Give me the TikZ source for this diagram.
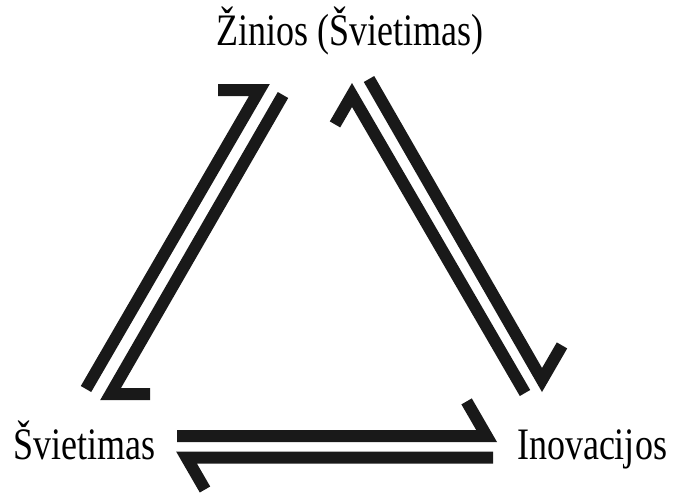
\documentclass[tikz,border=0pt]{standalone}
\usepackage{fontspec}
\setmainfont{Liberation Serif}
\begin{document}
\begin{tikzpicture}[x=1pt,y=-1pt,
  harp/.style={line width=12pt, line join=miter, miter limit=10, line cap=butt, draw=black!90},
  lbl/.style={font=\fontsize{45}{50}\selectfont, inner sep=0pt, anchor=base}]
\useasboundingbox (0,0) rectangle (676,493);
% labels
\node[lbl] (top) at (350,45) {\scalebox{0.8}[1]{Žinios (Švietimas)}};
\node[lbl] (left) at (84.5,459) {\scalebox{0.8}[1]{Švietimas}};
\node[lbl] (right) at (592,459) {\scalebox{0.8}[1]{Inovacijos}};
% left pair
\coordinate (L1t) at (86,389);
\coordinate (L1v) at (259.4,90);
\coordinate (L1b) at (218,90);
\coordinate (L2t) at (283,95);
\coordinate (L2v) at (110.6,394);
\coordinate (L2b) at (150,394);
% right pair
\coordinate (R1t) at (525,393);
\coordinate (R1v) at (352,95);
\coordinate (R1b) at (335,124.4);
\coordinate (R2t) at (369,79);
\coordinate (R2v) at (542,380);
\coordinate (R2b) at (562,345.4);
% bottom pair
\coordinate (B1t) at (177,436);
\coordinate (B1v) at (486.6,436);
\coordinate (B1b) at (466.6,401.4);
\coordinate (B2t) at (493,457.5);
\coordinate (B2v) at (186.5,457.5);
\coordinate (B2b) at (205,489.5);
\draw[harp] (L1t) -- (L1v) -- (L1b);
\draw[harp] (L2t) -- (L2v) -- (L2b);
\draw[harp] (R1t) -- (R1v) -- (R1b);
\draw[harp] (R2t) -- (R2v) -- (R2b);
\draw[harp] (B1t) -- (B1v) -- (B1b);
\draw[harp] (B2t) -- (B2v) -- (B2b);
\end{tikzpicture}
\end{document}
